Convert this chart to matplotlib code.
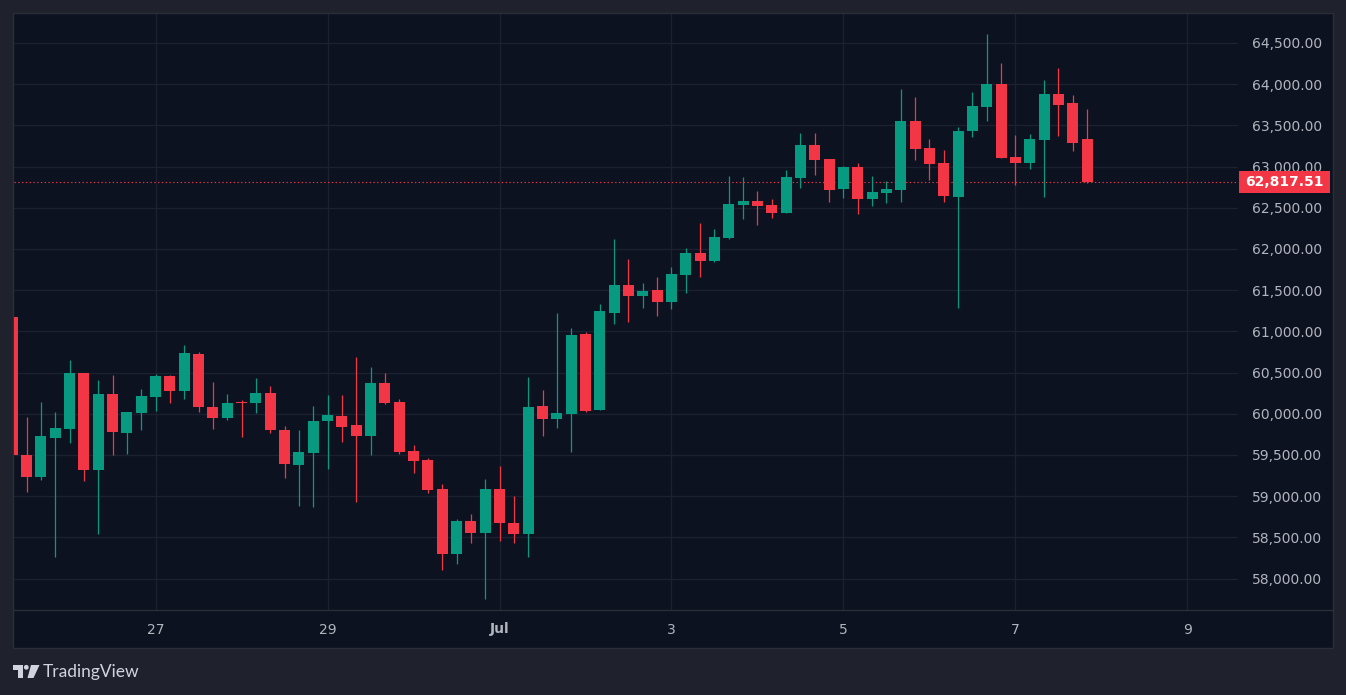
import numpy as np
import pandas as pd
import matplotlib
matplotlib.use("Agg")
import matplotlib.pyplot as plt
import matplotlib.dates as mdates
from matplotlib.patches import Rectangle, Circle, Polygon
from matplotlib.transforms import IdentityTransform

# 4h candles, 25 Jun 08:00 -> 7 Jul 20:00
times = pd.date_range("2024-06-25 08:00", periods=76, freq="4h")

opens = [61175, 59505, 59232, 59706, 59816, 60493, 59317, 60238, 59767, 60007,
         60201, 60461, 60271, 60729, 60085, 59943, 60145, 60125, 60255, 59805,
         59372, 59518, 59906, 59969, 59859, 59725, 60370, 60139, 59543, 59434,
         59081, 58294, 58704, 58550, 59084, 58671, 58541, 60094, 59940, 60001,
         60970, 60045, 61225, 61566, 61432, 61505, 61359, 61679, 61947, 61850,
         62129, 62531, 62580, 62531, 62434, 62859, 63261, 63090, 62725, 62993,
         62609, 62682, 62719, 63554, 63225, 63043, 62633, 63436, 63728, 64001,
         63113, 63044, 63324, 63880, 63770, 63332]
highs = [61190, 59958, 60140, 60019, 60651, 60500, 60408, 60469, 60025, 60298,
         60481, 60470, 60838, 60753, 60388, 60243, 60170, 60437, 60340, 59850,
         59805, 60097, 60230, 60224, 60687, 60565, 60492, 60176, 59616, 59458,
         59142, 58728, 58777, 59202, 59364, 58999, 60447, 60289, 61225, 61043,
         60994, 61335, 62126, 61882, 61590, 61663, 61785, 62008, 62312, 62239,
         62884, 62871, 62701, 62604, 62957, 63407, 63407, 63095, 63005, 63042,
         62881, 62824, 63943, 63846, 63335, 63201, 63481, 63907, 64610, 64257,
         63381, 63393, 64050, 64196, 63867, 63697]
lows = [59480, 59050, 59191, 58267, 59646, 59183, 58539, 59496, 59508, 59800,
        60035, 60125, 60182, 60016, 59809, 59919, 59712, 60004, 59761, 59214,
        58886, 58862, 59335, 59653, 58923, 59494, 60120, 59507, 59275, 59032,
        58108, 58172, 58428, 57747, 58456, 58432, 58261, 59733, 59831, 59539,
        60025, 60040, 61092, 61116, 61286, 61189, 61274, 61460, 61655, 61845,
        62125, 62361, 62288, 62373, 62430, 62738, 62896, 62567, 62616, 62421,
        62524, 62560, 62573, 63084, 62840, 62573, 61283, 63363, 63558, 63100,
        62777, 62971, 62631, 63373, 63190, 62800]
closes = [59505, 59232, 59727, 59824, 60493, 59317, 60238, 59779, 60019, 60213,
          60457, 60271, 60741, 60077, 59943, 60133, 60125, 60255, 59797, 59384,
          59538, 59915, 59987, 59835, 59725, 60370, 60127, 59531, 59421, 59069,
          58294, 58704, 58550, 59081, 58671, 58541, 60082, 59940, 60009, 60958,
          60033, 61250, 61566, 61432, 61493, 61359, 61695, 61947, 61850, 62142,
          62543, 62580, 62519, 62434, 62871, 63261, 63078, 62713, 62993, 62604,
          62690, 62727, 63554, 63217, 63035, 62646, 63432, 63736, 64000, 63105,
          63044, 63332, 63880, 63750, 63288, 62817.51]

tick_dates = ["2024-06-27", "2024-06-29", "2024-07-01", "2024-07-03",
              "2024-07-05", "2024-07-07", "2024-07-09"]
tick_labels = ["27", "29", "Jul", "3", "5", "7", "9"]
price_ticks = list(range(58000, 64501, 500))

UP = "#089981"
DOWN = "#f23645"
BG = "#0d1220"
OUTER = "#1f222c"
GRID = "#1c2131"
TXT = "#b2b5be"

fig = plt.figure(figsize=(13.46, 6.95), dpi=100, facecolor=OUTER)
W, H = 1346, 695

# chart panel
fig.add_artist(Rectangle((13, H - 648), 1320, 635, transform=IdentityTransform(),
                         facecolor=BG, edgecolor="#2a2e39", linewidth=1, zorder=0))
fig.add_artist(plt.Line2D([13, 1333], [H - 610, H - 610], transform=IdentityTransform(),
                          color="#2a2e39", linewidth=1))

ax = fig.add_axes([14 / W, (H - 610) / H, (1238 - 14) / W, (610 - 14) / H])
ax.set_facecolor("none")
for s in ax.spines.values():
    s.set_visible(False)

x = mdates.date2num(times)
step = 1 / 6
o = np.array(opens, dtype=float)
c = np.array(closes, dtype=float)
hi = np.array(highs, dtype=float)
lo = np.array(lows, dtype=float)
colors = np.where(c >= o, UP, DOWN)

ax.vlines(x, lo, hi, colors=colors, linewidth=0.9, zorder=3)
body_bottom = np.minimum(o, c)
body_h = np.maximum(np.abs(c - o), 14)
ax.bar(x, body_h, bottom=body_bottom, width=step * 0.77, color=colors,
       edgecolor=colors, linewidth=0, zorder=4)

ax.set_xlim(x[0] + (1.7 / 14.33) * step, x[0] + (1225.7 / 14.33) * step)
ax.set_ylim(57618, 64851)

# grid
ax.set_yticks(price_ticks)
ax.set_xticks(mdates.date2num(pd.to_datetime(tick_dates)))
ax.grid(True, color=GRID, linewidth=1)
ax.set_axisbelow(True)

ax.yaxis.tick_right()
ax.set_yticklabels([f"{p:,.2f}" for p in price_ticks])
ax.tick_params(axis="y", length=0, pad=60.5, labelsize=10, labelcolor=TXT)
for lab in ax.get_yticklabels():
    lab.set_horizontalalignment("right")
ax.set_xticklabels(tick_labels)
ax.tick_params(axis="x", length=0, pad=9, labelsize=10, labelcolor=TXT)
for lab in ax.get_xticklabels():
    if lab.get_text() == "Jul":
        lab.set_fontweight("bold")

# last price line and label
last = closes[-1]
ax.axhline(last, color=DOWN, linewidth=0.8, linestyle=(0, (1.2, 2.2)), zorder=2)
fig.canvas.draw()
_, yd = ax.transData.transform((x[0], last))
fig.add_artist(Rectangle((1239, yd - 11), 91, 22, transform=IdentityTransform(),
                         facecolor=DOWN, edgecolor="none", zorder=5))
fig.text(1284.5, yd, f"{last:,.2f}", transform=IdentityTransform(), ha="center",
         va="center", color="white", fontsize=10, fontweight="bold", zorder=6)

# TradingView logo
logo_c = "#d1d4dc"
def px(xp, yp):
    return (xp, H - yp)
fig.add_artist(Polygon([px(13, 665), px(22.5, 665), px(22.5, 678), px(17.5, 678),
                        px(17.5, 669.5), px(13, 669.5)], closed=True,
                       transform=IdentityTransform(), facecolor=logo_c, edgecolor="none"))
fig.add_artist(Circle(px(26.3, 667.3), 2.4, transform=IdentityTransform(),
                      facecolor=logo_c, edgecolor="none"))
fig.add_artist(Polygon([px(31, 665), px(39.5, 665), px(33.5, 678), px(27.5, 678)],
                       closed=True, transform=IdentityTransform(),
                       facecolor=logo_c, edgecolor="none"))
fig.text(43, H - 672, "TradingView", transform=IdentityTransform(), ha="left",
         va="center", color=logo_c, fontsize=12.5, family="Lato")

fig.savefig("out.png", dpi=100, facecolor=OUTER)
